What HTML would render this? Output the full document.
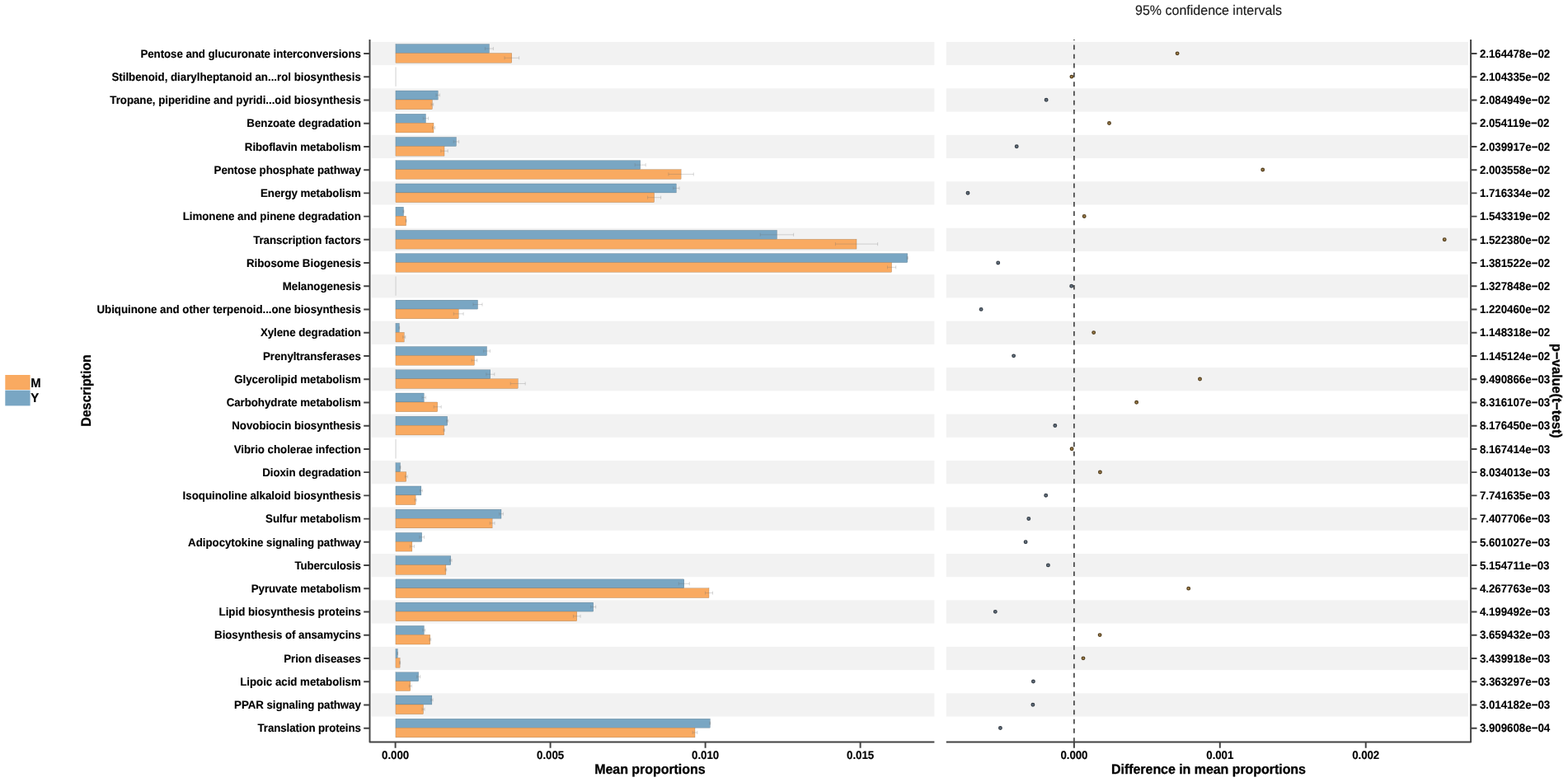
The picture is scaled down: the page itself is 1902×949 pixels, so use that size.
<!DOCTYPE html>
<html lang="en">
<head>
<meta charset="utf-8">
<title>Extended error bar plot</title>
<style>
html,body{margin:0;padding:0;background:#fff;}
body{width:1902px;height:949px;overflow:hidden;}
svg{display:block;}
text{font-family:"Liberation Sans",sans-serif;fill:#000;stroke:#000;stroke-width:0.12px;stroke-linejoin:round;text-rendering:geometricPrecision;}
.tk{font-size:13.33px;font-weight:bold;letter-spacing:-0.07px;stroke-width:0.18px;}
.ti{font-size:16px;font-weight:bold;letter-spacing:-0.05px;stroke-width:0.3px;}
.lg{font-size:14.9px;font-weight:bold;letter-spacing:0;}
.tt{font-size:16px;font-weight:normal;fill:#1a1a1a;stroke:#1a1a1a;stroke-width:0.15px;}
.ax{stroke:#424242;stroke-width:1.95;fill:none;}
.eb{stroke:#6e6e6e;stroke-opacity:0.6;stroke-width:0.45;fill:none;}
.bm{fill:#F9AA61;stroke:#8a6a48;stroke-width:0.3;}
.by{fill:#79A6C3;stroke:#4d6878;stroke-width:0.3;}
.po{fill:#a8884f;stroke:#574222;stroke-width:1.35;}
.pb{fill:#6c7b89;stroke:#3a424b;stroke-width:1.35;}
</style>
</head>
<body>
<svg width="1902" height="949" viewBox="0 0 1902 949" role="img" aria-label="Extended error bar plot of mean proportions and differences between groups M and Y">
<rect x="0" y="0" width="1902" height="949" fill="#ffffff"/>
<g fill="#F2F2F2">
<rect x="450.5" y="50.88" width="682.9" height="28.23"/>
<rect x="1147.8" y="50.88" width="633.2" height="28.23"/>
<rect x="450.5" y="107.35" width="682.9" height="28.23"/>
<rect x="1147.8" y="107.35" width="633.2" height="28.23"/>
<rect x="450.5" y="163.81" width="682.9" height="28.23"/>
<rect x="1147.8" y="163.81" width="633.2" height="28.23"/>
<rect x="450.5" y="220.26" width="682.9" height="28.23"/>
<rect x="1147.8" y="220.26" width="633.2" height="28.23"/>
<rect x="450.5" y="276.73" width="682.9" height="28.23"/>
<rect x="1147.8" y="276.73" width="633.2" height="28.23"/>
<rect x="450.5" y="333.19" width="682.9" height="28.23"/>
<rect x="1147.8" y="333.19" width="633.2" height="28.23"/>
<rect x="450.5" y="389.64" width="682.9" height="28.23"/>
<rect x="1147.8" y="389.64" width="633.2" height="28.23"/>
<rect x="450.5" y="446.11" width="682.9" height="28.23"/>
<rect x="1147.8" y="446.11" width="633.2" height="28.23"/>
<rect x="450.5" y="502.57" width="682.9" height="28.23"/>
<rect x="1147.8" y="502.57" width="633.2" height="28.23"/>
<rect x="450.5" y="559.02" width="682.9" height="28.23"/>
<rect x="1147.8" y="559.02" width="633.2" height="28.23"/>
<rect x="450.5" y="615.49" width="682.9" height="28.23"/>
<rect x="1147.8" y="615.49" width="633.2" height="28.23"/>
<rect x="450.5" y="671.95" width="682.9" height="28.23"/>
<rect x="1147.8" y="671.95" width="633.2" height="28.23"/>
<rect x="450.5" y="728.4" width="682.9" height="28.23"/>
<rect x="1147.8" y="728.4" width="633.2" height="28.23"/>
<rect x="450.5" y="784.87" width="682.9" height="28.23"/>
<rect x="1147.8" y="784.87" width="633.2" height="28.23"/>
<rect x="450.5" y="841.33" width="682.9" height="28.23"/>
<rect x="1147.8" y="841.33" width="633.2" height="28.23"/>
</g>
<g>
<rect class="by" x="479.95" y="53.6" width="113.45" height="10.95"/>
<rect class="bm" x="479.95" y="64.55" width="140.85" height="11.7"/>
<line x1="480.05" y1="81.43" x2="480.05" y2="104.83" stroke="#cbcbcb" stroke-width="0.9"/>
<rect class="by" x="479.95" y="110.06" width="51.25" height="10.95"/>
<rect class="bm" x="479.95" y="121.01" width="44.45" height="11.7"/>
<rect class="by" x="479.95" y="138.29" width="36.45" height="10.95"/>
<rect class="bm" x="479.95" y="149.24" width="46.05" height="11.7"/>
<rect class="by" x="479.95" y="166.52" width="73.45" height="10.95"/>
<rect class="bm" x="479.95" y="177.47" width="59.05" height="11.7"/>
<rect class="by" x="479.95" y="194.75" width="296.75" height="10.95"/>
<rect class="bm" x="479.95" y="205.7" width="346.15" height="11.7"/>
<rect class="by" x="479.95" y="222.98" width="340.35" height="10.95"/>
<rect class="bm" x="479.95" y="233.93" width="313.65" height="11.7"/>
<rect class="by" x="479.95" y="251.21" width="9.55" height="10.95"/>
<rect class="bm" x="479.95" y="262.16" width="12.65" height="11.7"/>
<rect class="by" x="479.95" y="279.44" width="462.45" height="10.95"/>
<rect class="bm" x="479.95" y="290.39" width="559.05" height="11.7"/>
<rect class="by" x="479.95" y="307.67" width="620.85" height="10.95"/>
<rect class="bm" x="479.95" y="318.62" width="601.65" height="11.7"/>
<line x1="480.05" y1="335.5" x2="480.05" y2="358.9" stroke="#cbcbcb" stroke-width="0.9"/>
<rect class="by" x="479.95" y="364.13" width="99.55" height="10.95"/>
<rect class="bm" x="479.95" y="375.08" width="76.25" height="11.7"/>
<rect class="by" x="479.95" y="392.36" width="4.35" height="10.95"/>
<rect class="bm" x="479.95" y="403.31" width="10.25" height="11.7"/>
<rect class="by" x="479.95" y="420.59" width="110.55" height="10.95"/>
<rect class="bm" x="479.95" y="431.54" width="95.45" height="11.7"/>
<rect class="by" x="479.95" y="448.82" width="114.85" height="10.95"/>
<rect class="bm" x="479.95" y="459.77" width="148.25" height="11.7"/>
<rect class="by" x="479.95" y="477.05" width="34.25" height="10.95"/>
<rect class="bm" x="479.95" y="488" width="50.75" height="11.7"/>
<rect class="by" x="479.95" y="505.28" width="62.75" height="10.95"/>
<rect class="bm" x="479.95" y="516.23" width="58.75" height="11.7"/>
<line x1="480.05" y1="533.11" x2="480.05" y2="556.51" stroke="#cbcbcb" stroke-width="0.9"/>
<rect class="by" x="479.95" y="561.74" width="5.55" height="10.95"/>
<rect class="bm" x="479.95" y="572.69" width="12.85" height="11.7"/>
<rect class="by" x="479.95" y="589.97" width="30.95" height="10.95"/>
<rect class="bm" x="479.95" y="600.92" width="24.15" height="11.7"/>
<rect class="by" x="479.95" y="618.2" width="128.05" height="10.95"/>
<rect class="bm" x="479.95" y="629.15" width="117.15" height="11.7"/>
<rect class="by" x="479.95" y="646.43" width="31.75" height="10.95"/>
<rect class="bm" x="479.95" y="657.38" width="19.95" height="11.7"/>
<rect class="by" x="479.95" y="674.66" width="66.85" height="10.95"/>
<rect class="bm" x="479.95" y="685.61" width="60.95" height="11.7"/>
<rect class="by" x="479.95" y="702.89" width="349.85" height="10.95"/>
<rect class="bm" x="479.95" y="713.84" width="380.05" height="11.7"/>
<rect class="by" x="479.95" y="731.12" width="239.75" height="10.95"/>
<rect class="bm" x="479.95" y="742.07" width="219.85" height="11.7"/>
<rect class="by" x="479.95" y="759.35" width="34.35" height="10.95"/>
<rect class="bm" x="479.95" y="770.3" width="41.85" height="11.7"/>
<rect class="by" x="479.95" y="787.58" width="2.25" height="10.95"/>
<rect class="bm" x="479.95" y="798.53" width="5.15" height="11.7"/>
<rect class="by" x="479.95" y="815.81" width="27.75" height="10.95"/>
<rect class="bm" x="479.95" y="826.76" width="17.85" height="11.7"/>
<rect class="by" x="479.95" y="844.04" width="43.95" height="10.95"/>
<rect class="bm" x="479.95" y="854.99" width="33.55" height="11.7"/>
<rect class="by" x="479.95" y="872.27" width="381.35" height="10.95"/>
<rect class="bm" x="479.95" y="883.22" width="363.05" height="11.7"/>
</g>
<g class="eb">
<path d="M588.4 59H598.4M588.4 56.95V61.05M598.4 56.95V61.05"/>
<path d="M612 70.3H629.6M612 68.25V72.35M629.6 68.25V72.35"/>
<path d="M529 115.46H533.4M529 113.41V117.51M533.4 113.41V117.51"/>
<path d="M523.1 126.76H525.7M523.1 124.71V128.81M525.7 124.71V128.81"/>
<path d="M513.3 143.69H519.5M513.3 141.64V145.74M519.5 141.64V145.74"/>
<path d="M524.5 154.99H527.5M524.5 152.94V157.04M527.5 152.94V157.04"/>
<path d="M550.2 171.92H556.6M550.2 169.87V173.97M556.6 169.87V173.97"/>
<path d="M534.8 183.22H543.2M534.8 181.17V185.27M543.2 181.17V185.27"/>
<path d="M770.2 200.15H783.2M770.2 198.1V202.2M783.2 198.1V202.2"/>
<path d="M810.9 211.45H841.3M810.9 209.4V213.5M841.3 209.4V213.5"/>
<path d="M816.6 228.38H824M816.6 226.33V230.43M824 226.33V230.43"/>
<path d="M785.6 239.68H801.6M785.6 237.63V241.73M801.6 237.63V241.73"/>
<path d="M489 256.61H490M489 254.56V258.66M490 254.56V258.66"/>
<path d="M492.1 267.91H493.1M492.1 265.86V269.96M493.1 265.86V269.96"/>
<path d="M922.2 284.84H962.6M922.2 282.79V286.89M962.6 282.79V286.89"/>
<path d="M1013.4 296.14H1064.6M1013.4 294.09V298.19M1064.6 294.09V298.19"/>
<path d="M1100.1 313.07H1101.5M1100.1 311.02V315.12M1101.5 311.02V315.12"/>
<path d="M1076.5 324.37H1086.7M1076.5 322.32V326.42M1086.7 322.32V326.42"/>
<path d="M574 369.53H585M574 367.48V371.58M585 367.48V371.58"/>
<path d="M550.3 380.83H562.1M550.3 378.78V382.88M562.1 378.78V382.88"/>
<path d="M483.9 397.76H484.7M483.9 395.71V399.81M484.7 395.71V399.81"/>
<path d="M488.7 409.06H491.7M488.7 407.01V411.11M491.7 407.01V411.11"/>
<path d="M586.6 425.99H594.4M586.6 423.94V428.04M594.4 423.94V428.04"/>
<path d="M572.1 437.29H578.7M572.1 435.24V439.34M578.7 435.24V439.34"/>
<path d="M589.8 454.22H599.8M589.8 452.17V456.27M599.8 452.17V456.27"/>
<path d="M619.2 465.52H637.2M619.2 463.47V467.57M637.2 463.47V467.57"/>
<path d="M512 482.45H516.4M512 480.4V484.5M516.4 480.4V484.5"/>
<path d="M526.2 493.75H535.2M526.2 491.7V495.8M535.2 491.7V495.8"/>
<path d="M541.7 510.68H543.7M541.7 508.63V512.73M543.7 508.63V512.73"/>
<path d="M538 521.98H539.4M538 519.93V524.03M539.4 519.93V524.03"/>
<path d="M485 567.14H486M485 565.09V569.19M486 565.09V569.19"/>
<path d="M491.3 578.44H494.3M491.3 576.39V580.49M494.3 576.39V580.49"/>
<path d="M509.4 595.37H512.4M509.4 593.32V597.42M512.4 593.32V597.42"/>
<path d="M503.1 606.67H505.1M503.1 604.62V608.72M505.1 604.62V608.72"/>
<path d="M605.6 623.6H610.4M605.6 621.55V625.65M610.4 621.55V625.65"/>
<path d="M594.2 634.9H600M594.2 632.85V636.95M600 632.85V636.95"/>
<path d="M508.9 651.83H514.5M508.9 649.78V653.88M514.5 649.78V653.88"/>
<path d="M497.4 663.13H502.4M497.4 661.08V665.18M502.4 661.08V665.18"/>
<path d="M545.6 680.06H548M545.6 678.01V682.11M548 678.01V682.11"/>
<path d="M540.1 691.36H541.7M540.1 689.31V693.41M541.7 689.31V693.41"/>
<path d="M823.3 708.29H836.3M823.3 706.24V710.34M836.3 706.24V710.34"/>
<path d="M855.5 719.59H864.5M855.5 717.54V721.64M864.5 717.54V721.64"/>
<path d="M716.7 736.52H722.7M716.7 734.47V738.57M722.7 734.47V738.57"/>
<path d="M695.5 747.82H704.1M695.5 745.77V749.87M704.1 745.77V749.87"/>
<path d="M512.8 764.75H515.8M512.8 762.7V766.8M515.8 762.7V766.8"/>
<path d="M520.8 776.05H522.8M520.8 774V778.1M522.8 774V778.1"/>
<path d="M481.9 792.98H482.5M481.9 790.93V795.03M482.5 790.93V795.03"/>
<path d="M484.6 804.28H485.6M484.6 802.23V806.33M485.6 802.23V806.33"/>
<path d="M505.7 821.21H509.7M505.7 819.16V823.26M509.7 819.16V823.26"/>
<path d="M496.3 832.51H499.3M496.3 830.46V834.56M499.3 830.46V834.56"/>
<path d="M522.7 849.44H525.1M522.7 847.39V851.49M525.1 847.39V851.49"/>
<path d="M512 860.74H515M512 858.69V862.79M515 858.69V862.79"/>
<path d="M860.8 877.67H861.8M860.8 875.62V879.72M861.8 875.62V879.72"/>
<path d="M840.2 888.97H845.8M840.2 886.92V891.02M845.8 886.92V891.02"/>
</g>
<line x1="1302.9" y1="48" x2="1302.9" y2="900.4" stroke="#3c3c3c" stroke-width="1.6" stroke-dasharray="5.7 5.51" stroke-dashoffset="4.77"/>
<g>
<circle class="po" cx="1428.1" cy="64.85" r="1.78"/>
<circle class="po" cx="1299.9" cy="93.08" r="1.78"/>
<circle class="pb" cx="1269.1" cy="121.31" r="1.78"/>
<circle class="po" cx="1345.5" cy="149.54" r="1.78"/>
<circle class="pb" cx="1233.2" cy="177.77" r="1.78"/>
<circle class="po" cx="1531.7" cy="206" r="1.78"/>
<circle class="pb" cx="1174" cy="234.23" r="1.78"/>
<circle class="po" cx="1315.2" cy="262.46" r="1.78"/>
<circle class="po" cx="1752.2" cy="290.69" r="1.78"/>
<circle class="pb" cx="1210.7" cy="318.92" r="1.78"/>
<circle class="pb" cx="1299.7" cy="347.15" r="1.78"/>
<circle class="pb" cx="1190.1" cy="375.38" r="1.78"/>
<circle class="po" cx="1326.7" cy="403.61" r="1.78"/>
<circle class="pb" cx="1229.6" cy="431.84" r="1.78"/>
<circle class="po" cx="1455.5" cy="460.07" r="1.78"/>
<circle class="po" cx="1378.6" cy="488.3" r="1.78"/>
<circle class="pb" cx="1279.8" cy="516.53" r="1.78"/>
<circle class="po" cx="1300.1" cy="544.76" r="1.78"/>
<circle class="po" cx="1334.4" cy="572.99" r="1.78"/>
<circle class="pb" cx="1268.7" cy="601.22" r="1.78"/>
<circle class="pb" cx="1247.8" cy="629.45" r="1.78"/>
<circle class="pb" cx="1244.1" cy="657.68" r="1.78"/>
<circle class="pb" cx="1271.4" cy="685.91" r="1.78"/>
<circle class="po" cx="1441.7" cy="714.14" r="1.78"/>
<circle class="pb" cx="1207.3" cy="742.37" r="1.78"/>
<circle class="po" cx="1334.1" cy="770.6" r="1.78"/>
<circle class="po" cx="1314" cy="798.83" r="1.78"/>
<circle class="pb" cx="1253.4" cy="827.06" r="1.78"/>
<circle class="pb" cx="1252.9" cy="855.29" r="1.78"/>
<circle class="pb" cx="1213.4" cy="883.52" r="1.78"/>
</g>
<g class="ax">
<path d="M448.5 48V900.4H1133.4" stroke-linejoin="round"/>
<path d="M1147.8 900.4H1784.1V48" stroke-linejoin="round"/>
<path d="M441.2 65H448.5M1784.1 65H1791.5M441.2 93.23H448.5M1784.1 93.23H1791.5M441.2 121.46H448.5M1784.1 121.46H1791.5M441.2 149.69H448.5M1784.1 149.69H1791.5M441.2 177.92H448.5M1784.1 177.92H1791.5M441.2 206.15H448.5M1784.1 206.15H1791.5M441.2 234.38H448.5M1784.1 234.38H1791.5M441.2 262.61H448.5M1784.1 262.61H1791.5M441.2 290.84H448.5M1784.1 290.84H1791.5M441.2 319.07H448.5M1784.1 319.07H1791.5M441.2 347.3H448.5M1784.1 347.3H1791.5M441.2 375.53H448.5M1784.1 375.53H1791.5M441.2 403.76H448.5M1784.1 403.76H1791.5M441.2 431.99H448.5M1784.1 431.99H1791.5M441.2 460.22H448.5M1784.1 460.22H1791.5M441.2 488.45H448.5M1784.1 488.45H1791.5M441.2 516.68H448.5M1784.1 516.68H1791.5M441.2 544.91H448.5M1784.1 544.91H1791.5M441.2 573.14H448.5M1784.1 573.14H1791.5M441.2 601.37H448.5M1784.1 601.37H1791.5M441.2 629.6H448.5M1784.1 629.6H1791.5M441.2 657.83H448.5M1784.1 657.83H1791.5M441.2 686.06H448.5M1784.1 686.06H1791.5M441.2 714.29H448.5M1784.1 714.29H1791.5M441.2 742.52H448.5M1784.1 742.52H1791.5M441.2 770.75H448.5M1784.1 770.75H1791.5M441.2 798.98H448.5M1784.1 798.98H1791.5M441.2 827.21H448.5M1784.1 827.21H1791.5M441.2 855.44H448.5M1784.1 855.44H1791.5M441.2 883.67H448.5M1784.1 883.67H1791.5"/>
<path d="M479.6 900.4V907.8M667.6 900.4V907.8M855.6 900.4V907.8M1043.6 900.4V907.8M1302.9 900.4V907.8M1479.8 900.4V907.8M1656.7 900.4V907.8"/>
</g>
<g class="tk" text-anchor="middle">
<text transform="translate(479.6 921) scale(1 1.04)">0.000</text>
<text transform="translate(667.6 921) scale(1 1.04)">0.005</text>
<text transform="translate(855.6 921) scale(1 1.04)">0.010</text>
<text transform="translate(1043.6 921) scale(1 1.04)">0.015</text>
<text transform="translate(1302.9 921) scale(1 1.04)">0.000</text>
<text transform="translate(1479.8 921) scale(1 1.04)">0.001</text>
<text transform="translate(1656.7 921) scale(1 1.04)">0.002</text>
</g>
<g class="tk" text-anchor="end">
<text transform="translate(437.8 69.7) scale(1 1.04)" style="letter-spacing:-0.074px">Pentose and glucuronate interconversions</text>
<text transform="translate(437.8 97.93) scale(1 1.04)" style="letter-spacing:-0.027px">Stilbenoid, diarylheptanoid an...rol biosynthesis</text>
<text transform="translate(437.8 126.16) scale(1 1.04)" style="letter-spacing:-0.043px">Tropane, piperidine and pyridi...oid biosynthesis</text>
<text transform="translate(437.8 154.39) scale(1 1.04)" style="letter-spacing:-0.037px">Benzoate degradation</text>
<text transform="translate(437.8 182.62) scale(1 1.04)" style="letter-spacing:-0.058px">Riboflavin metabolism</text>
<text transform="translate(437.8 210.85) scale(1 1.04)" style="letter-spacing:-0.070px">Pentose phosphate pathway</text>
<text transform="translate(437.8 239.08) scale(1 1.04)" style="letter-spacing:-0.070px">Energy metabolism</text>
<text transform="translate(437.8 267.31) scale(1 1.04)" style="letter-spacing:-0.026px">Limonene and pinene degradation</text>
<text transform="translate(437.8 295.54) scale(1 1.04)" style="letter-spacing:-0.094px">Transcription factors</text>
<text transform="translate(437.8 323.77) scale(1 1.04)" style="letter-spacing:-0.019px">Ribosome Biogenesis</text>
<text transform="translate(437.8 352) scale(1 1.04)" style="letter-spacing:-0.039px">Melanogenesis</text>
<text transform="translate(437.8 380.23) scale(1 1.04)" style="letter-spacing:-0.037px">Ubiquinone and other terpenoid...one biosynthesis</text>
<text transform="translate(437.8 408.46) scale(1 1.04)" style="letter-spacing:-0.057px">Xylene degradation</text>
<text transform="translate(437.8 436.69) scale(1 1.04)" style="letter-spacing:-0.070px">Prenyltransferases</text>
<text transform="translate(437.8 464.92) scale(1 1.04)" style="letter-spacing:-0.053px">Glycerolipid metabolism</text>
<text transform="translate(437.8 493.15) scale(1 1.04)" style="letter-spacing:-0.055px">Carbohydrate metabolism</text>
<text transform="translate(437.8 521.38) scale(1 1.04)" style="letter-spacing:-0.053px">Novobiocin biosynthesis</text>
<text transform="translate(437.8 549.61) scale(1 1.04)" style="letter-spacing:-0.048px">Vibrio cholerae infection</text>
<text transform="translate(437.8 577.84) scale(1 1.04)" style="letter-spacing:-0.064px">Dioxin degradation</text>
<text transform="translate(437.8 606.07) scale(1 1.04)" style="letter-spacing:-0.023px">Isoquinoline alkaloid biosynthesis</text>
<text transform="translate(437.8 634.3) scale(1 1.04)" style="letter-spacing:-0.029px">Sulfur metabolism</text>
<text transform="translate(437.8 662.53) scale(1 1.04)" style="letter-spacing:-0.044px">Adipocytokine signaling pathway</text>
<text transform="translate(437.8 690.76) scale(1 1.04)" style="letter-spacing:-0.145px">Tuberculosis</text>
<text transform="translate(437.8 718.99) scale(1 1.04)" style="letter-spacing:-0.051px">Pyruvate metabolism</text>
<text transform="translate(437.8 747.22) scale(1 1.04)" style="letter-spacing:-0.041px">Lipid biosynthesis proteins</text>
<text transform="translate(437.8 775.45) scale(1 1.04)" style="letter-spacing:-0.059px">Biosynthesis of ansamycins</text>
<text transform="translate(437.8 803.68) scale(1 1.04)" style="letter-spacing:-0.034px">Prion diseases</text>
<text transform="translate(437.8 831.91) scale(1 1.04)" style="letter-spacing:-0.035px">Lipoic acid metabolism</text>
<text transform="translate(437.8 860.14) scale(1 1.04)" style="letter-spacing:-0.070px">PPAR signaling pathway</text>
<text transform="translate(437.8 888.37) scale(1 1.04)" style="letter-spacing:-0.105px">Translation proteins</text>
</g>
<g class="tk" text-anchor="start">
<text transform="translate(1794.9 69.7) scale(1 1.04)" style="letter-spacing:-0.03px">2.164478e−02</text>
<text transform="translate(1794.9 97.93) scale(1 1.04)" style="letter-spacing:-0.03px">2.104335e−02</text>
<text transform="translate(1794.9 126.16) scale(1 1.04)" style="letter-spacing:-0.03px">2.084949e−02</text>
<text transform="translate(1794.9 154.39) scale(1 1.04)" style="letter-spacing:-0.03px">2.054119e−02</text>
<text transform="translate(1794.9 182.62) scale(1 1.04)" style="letter-spacing:-0.03px">2.039917e−02</text>
<text transform="translate(1794.9 210.85) scale(1 1.04)" style="letter-spacing:-0.03px">2.003558e−02</text>
<text transform="translate(1794.9 239.08) scale(1 1.04)" style="letter-spacing:-0.03px">1.716334e−02</text>
<text transform="translate(1794.9 267.31) scale(1 1.04)" style="letter-spacing:-0.03px">1.543319e−02</text>
<text transform="translate(1794.9 295.54) scale(1 1.04)" style="letter-spacing:-0.03px">1.522380e−02</text>
<text transform="translate(1794.9 323.77) scale(1 1.04)" style="letter-spacing:-0.03px">1.381522e−02</text>
<text transform="translate(1794.9 352) scale(1 1.04)" style="letter-spacing:-0.03px">1.327848e−02</text>
<text transform="translate(1794.9 380.23) scale(1 1.04)" style="letter-spacing:-0.03px">1.220460e−02</text>
<text transform="translate(1794.9 408.46) scale(1 1.04)" style="letter-spacing:-0.03px">1.148318e−02</text>
<text transform="translate(1794.9 436.69) scale(1 1.04)" style="letter-spacing:-0.03px">1.145124e−02</text>
<text transform="translate(1794.9 464.92) scale(1 1.04)" style="letter-spacing:-0.03px">9.490866e−03</text>
<text transform="translate(1794.9 493.15) scale(1 1.04)" style="letter-spacing:-0.03px">8.316107e−03</text>
<text transform="translate(1794.9 521.38) scale(1 1.04)" style="letter-spacing:-0.03px">8.176450e−03</text>
<text transform="translate(1794.9 549.61) scale(1 1.04)" style="letter-spacing:-0.03px">8.167414e−03</text>
<text transform="translate(1794.9 577.84) scale(1 1.04)" style="letter-spacing:-0.03px">8.034013e−03</text>
<text transform="translate(1794.9 606.07) scale(1 1.04)" style="letter-spacing:-0.03px">7.741635e−03</text>
<text transform="translate(1794.9 634.3) scale(1 1.04)" style="letter-spacing:-0.03px">7.407706e−03</text>
<text transform="translate(1794.9 662.53) scale(1 1.04)" style="letter-spacing:-0.03px">5.601027e−03</text>
<text transform="translate(1794.9 690.76) scale(1 1.04)" style="letter-spacing:-0.03px">5.154711e−03</text>
<text transform="translate(1794.9 718.99) scale(1 1.04)" style="letter-spacing:-0.03px">4.267763e−03</text>
<text transform="translate(1794.9 747.22) scale(1 1.04)" style="letter-spacing:-0.03px">4.199492e−03</text>
<text transform="translate(1794.9 775.45) scale(1 1.04)" style="letter-spacing:-0.03px">3.659432e−03</text>
<text transform="translate(1794.9 803.68) scale(1 1.04)" style="letter-spacing:-0.03px">3.439918e−03</text>
<text transform="translate(1794.9 831.91) scale(1 1.04)" style="letter-spacing:-0.03px">3.363297e−03</text>
<text transform="translate(1794.9 860.14) scale(1 1.04)" style="letter-spacing:-0.03px">3.014182e−03</text>
<text transform="translate(1794.9 888.37) scale(1 1.04)" style="letter-spacing:-0.03px">3.909608e−04</text>
</g>
<text class="ti" text-anchor="middle" transform="translate(788.4 939) scale(1 1.04)">Mean proportions</text>
<text class="ti" text-anchor="middle" transform="translate(1466 939) scale(1 1.04)">Difference in mean proportions</text>
<text class="ti" text-anchor="middle" transform="translate(110.1 474) rotate(-90) scale(1 1.04)">Description</text>
<text class="ti" style="letter-spacing:0.05px" text-anchor="middle" transform="translate(1883 474.4) rotate(90) scale(1 1.04)">p−value(t−test)</text>
<text class="tt" text-anchor="middle" transform="translate(1466 18) scale(1 1.04)">95% confidence intervals</text>
<rect x="6.3" y="455" width="30.3" height="18" fill="#F9AA61"/>
<rect x="6.3" y="473.6" width="30.3" height="18.8" fill="#79A6C3"/>
<text class="lg" transform="translate(37.3 469.5) scale(1 1.04)">M</text>
<text class="lg" transform="translate(37.3 488.3) scale(1 1.04)">Y</text>
</svg>
</body>
</html>
